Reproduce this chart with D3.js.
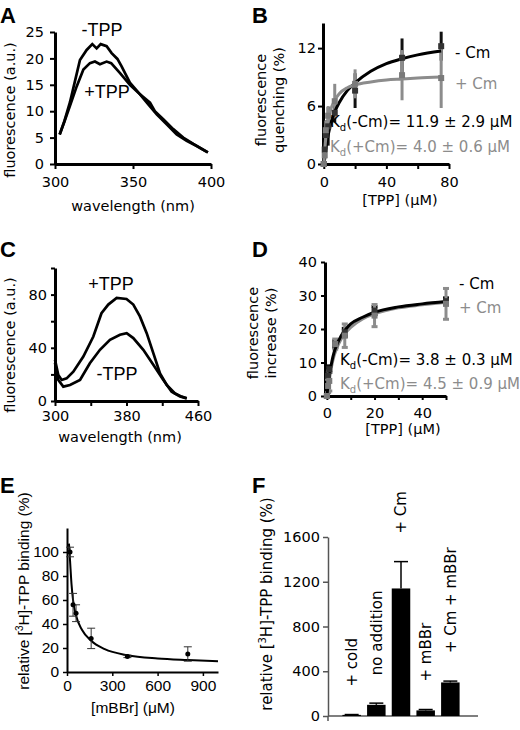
<!DOCTYPE html>
<html><head><meta charset="utf-8">
<script src="https://cdn.jsdelivr.net/npm/d3@7"></script>
<style>body{margin:0;background:#fff}svg{display:block}</style>
</head><body><svg id="c" width="520" height="730"></svg>
<script>
// ---------- DATA ----------
// Panel A: emission spectra
const aWlMinus = [303,306,309.6,312.8,316,320.3,323.9,326.7,329.3,333.1,336.3,340,342.7,348,354.5,360.9,364,369.4,375.8,382.2,388.7,396.2,398];
const aMinus   = [5.6,8.1,11.7,15.7,19.7,21.6,22.7,21.9,22.7,22.3,21,19.9,18.5,15.4,13.2,11.6,10,8.5,6.6,5.0,3.8,2.5,2.2];
const aWlPlus  = [303,306,309.6,313.9,318.2,322.4,325.6,328.8,333.1,336,341.7,348,354.5,359.8,365.2,371.6,378,384.4,390.8,396.2,398];
const aPlus    = [5.6,8,11,14.7,17.9,19.1,19.4,18.9,19.4,19.1,17.2,15,13.2,11.3,9.4,7.5,5.6,4.4,3.4,2.5,2.2];
const aTicksY = [0,5,10,15,20,25];
const aTicksX = [300,350,400];
// Panel B: quenching titration
const bConc = [0,0.6,1.3,2.8,7,20,50,75];
const bMinus = [0,1.5,3,3.9,5.3,7.6,11,12.2];
const bMinusErr = [0,1,1.5,2,1,1.8,2,1.5];
const bPlus = [0,0.9,3.5,5,6.5,8.3,9.2,8.9];
const bPlusErr = [0,0.5,1,1,1.8,1.5,2.6,3.1];
const bFitX = [0,1,2,4,7,10,15,20,30,40,50,60,75];
const bFitMinus = [0,1.2,2.3,3.9,5.4,6.4,7.6,8.4,9.6,10.4,10.9,11.3,11.7];
const bFitPlus = [0,2.2,3.7,5.4,6.6,7.3,7.9,8.2,8.5,8.7,8.8,8.9,9.0];
const bTicksY = [0,6,12];
const bTicksX = [0,20,40,60,80];
const bLabelsX = [0,40,80];
// Panel C: emission spectra
const cWlPlus = [300,303.7,307.5,313,320.5,331.7,342.9,352,359.6,369,380,387.6,395,402.6,410,417.5,425,434,441.7,447.4];
const cPlus   = [31,19.6,15.8,17,22,33.4,48.5,66,72.5,77.5,76.7,72.5,63.6,51,36,20.8,12,5.8,3.3,2];
const cWlMinus = [300,303.7,309.3,316.8,328,339,350.3,361.5,372.7,380.2,387.6,398.8,410,421.2,430.5,439.9,447.4];
const cMinus   = [28.7,15.8,10.8,12,15.8,28.4,38.5,46,49.8,51,47.3,38.5,27.2,15.8,7,3.3,2];
const cTicksY = [0,20,40,60,80,100];
const cLabelsY = [0,40,80];
const cTicksX = [300,340,380,420,460];
const cLabelsX = [300,380,460];
// Panel D: fluorescence increase titration
const dConc = [0,0.5,1,3.5,7.5,20,50];
const dMinus = [0,6,8,15.5,19,25.5,28.3];
const dMinusErr = [0,1,1,1,1.2,1.2,1];
const dPlus = [0,3,4.5,15.5,18,24,27.5];
const dPlusErr = [0,2,3,1.5,3.5,3.3,4.6];
const dFitX = [0,0.5,1,2,3,4,6,8,10,15,20,30,40,50];
const dFitMinus = [0,3.3,6,10,13,15,18,20,21.5,23.5,25,26.6,27.5,28.2];
const dFitPlus = [0,2.8,5.2,9,12,14,17,19,20.5,23,24.5,26.3,27.2,28];
const dTicksY = [0,10,20,30,40];
const dTicksX = [0,10,20,30,40,50];
const dLabelsX = [0,20,40];
// Panel E: mBBr inhibition
const eConc = [20,40,60,160,400,800];
const eVal = [100,56,49,28,13,15];
const eErr = [4,9.5,7,8.5,1,6];
const eFitX = [13,20,30,40,60,100,160,250,400,600,800,1000];
const eFitY = [107,93,73,60,47,35,26,19,14,11.3,10,9];
const eTicksY = [0,20,40,60,80,100];
const eTicksX = [0,300,600,900];
// Panel F: binding bars
const fCats = ["+ cold","no addition","+ Cm","+ mBBr","+ Cm + mBBr"];
const fVals = [10,100,1140,50,300];
const fErr = [3,15,240,8,12];
const fTicksY = [0,400,800,1200,1600];

// ---------- DRAW ----------
const svg = d3.select("#c");
svg.append("rect").attr("width",520).attr("height",730).attr("fill","#fff");
const VF = "'DejaVu Sans', Verdana, sans-serif";
const AF = "'Liberation Sans', Arial, sans-serif";
const GRAY = "#8c8c8c";

function styleAxis(g, o){
  g.attr("font-family", o.font || VF).attr("font-size", o.fs || 14.5);
  g.select(".domain").attr("stroke", o.color || "#000").attr("stroke-width", o.w || 3);
  g.selectAll(".tick line").attr("stroke", o.color || "#000").attr("stroke-width", o.tw || 2);
  g.selectAll(".tick text").attr("fill","#000");
}
function fmt(labels){ return d => labels.includes(d) ? String(d) : ""; }
function letter(t,x,y){ svg.append("text").attr("x",x).attr("y",y).attr("font-family",AF).attr("font-weight","bold").attr("font-size",22).text(t); }
function ylabel(lines, x0, cy, dx, font, fs){
  lines.forEach((t,i)=>{
    svg.append("text").attr("transform",`translate(${x0+i*dx},${cy}) rotate(-90)`).attr("text-anchor","middle")
      .attr("font-family",font||VF).attr("font-size",fs||14.5).text(t);
  });
}
function xlabel(t,cx,y,font,fs){ svg.append("text").attr("x",cx).attr("y",y).attr("text-anchor","middle").attr("font-family",font||VF).attr("font-size",fs||14.5).text(t); }
function kdText(x,y,main,color){
  const t = svg.append("text").attr("x",x).attr("y",y).attr("font-family",VF).attr("font-size",15).attr("fill",color);
  t.append("tspan").text("K");
  t.append("tspan").attr("dy",4).attr("font-size",10).text("d");
  t.append("tspan").attr("dy",-4).text(main);
}

// ===== Panel A =====
{
  const x = d3.scaleLinear().domain([300,400]).range([55,211]);
  const y = d3.scaleLinear().domain([0,25]).range([164,32]);
  svg.append("g").attr("transform","translate(0,164)").call(d3.axisBottom(x).tickValues(aTicksX).tickFormat(d3.format("d")).tickSize(5).tickSizeOuter(0).tickPadding(8)).call(g=>styleAxis(g,{}));
  svg.append("g").attr("transform","translate(55,0)").call(d3.axisLeft(y).tickValues(aTicksY).tickFormat(d3.format("d")).tickSize(5).tickSizeOuter(0).tickPadding(6)).call(g=>styleAxis(g,{}));
  const line = d3.line().x(d=>x(d[0])).y(d=>y(d[1]));
  svg.append("path").datum(d3.zip(aWlMinus,aMinus)).attr("d",line).attr("fill","none").attr("stroke","#000").attr("stroke-width",2.7);
  svg.append("path").datum(d3.zip(aWlPlus,aPlus)).attr("d",line).attr("fill","none").attr("stroke","#000").attr("stroke-width",2.7);
  svg.append("text").attr("x",102).attr("y",36).attr("text-anchor","middle").attr("font-family",AF).attr("font-size",18).text("-TPP");
  svg.append("text").attr("x",107).attr("y",98).attr("text-anchor","middle").attr("font-family",AF).attr("font-size",18).text("+TPP");
  letter("A",0,23);
  ylabel(["fluorescence (a.u.)"],15,110,0);
  xlabel("wavelength (nm)",133,211);
}

// ===== Panel B =====
{
  const x = d3.scaleLinear().domain([-0.5,80]).range([323,449]);
  const y = d3.scaleLinear().domain([0,14.6]).range([164,23]);
  svg.append("g").attr("transform","translate(0,164)").call(d3.axisBottom(x).tickValues(bTicksX).tickFormat(fmt(bLabelsX)).tickSize(5).tickSizeOuter(0).tickPadding(8)).call(g=>styleAxis(g,{}));
  svg.append("g").attr("transform","translate(323,0)").call(d3.axisLeft(y).tickValues(bTicksY).tickFormat(d3.format("d")).tickSize(5).tickSizeOuter(0).tickPadding(2)).call(g=>styleAxis(g,{}));
  const line = d3.line().x(d=>x(d[0])).y(d=>y(d[1])).curve(d3.curveMonotoneX);
  const series = [[bMinus,bMinusErr,"#111"],[bPlus,bPlusErr,GRAY]];
  series.forEach(([v,e,c])=>{
    svg.append("g").selectAll("line").data(bConc.map((cc,i)=>[cc,v[i],e[i]])).join("line")
      .attr("x1",d=>x(d[0])).attr("x2",d=>x(d[0])).attr("y1",d=>y(d[1]-d[2])).attr("y2",d=>y(d[1]+d[2]))
      .attr("stroke",c).attr("stroke-width",3);
  });
  svg.append("path").datum(d3.zip(bFitX,bFitMinus)).attr("d",line).attr("fill","none").attr("stroke","#000").attr("stroke-width",3);
  svg.append("path").datum(d3.zip(bFitX,bFitPlus)).attr("d",line).attr("fill","none").attr("stroke",GRAY).attr("stroke-width",3);
  series.forEach(([v,e,c])=>{
    svg.append("g").selectAll("rect").data(bConc.map((cc,i)=>[cc,v[i]])).join("rect")
      .attr("x",d=>x(d[0])-3).attr("y",d=>y(d[1])-3).attr("width",6).attr("height",6).attr("fill",c==="#111"?"#333":"#7a7a7a");
  });
  svg.append("text").attr("x",455).attr("y",58).attr("font-family",VF).attr("font-size",15).text("- Cm");
  svg.append("text").attr("x",455).attr("y",89).attr("font-family",VF).attr("font-size",15).attr("fill",GRAY).text("+ Cm");
  kdText(330,127,"(-Cm)= 11.9 ± 2.9 μM","#000");
  kdText(330,152,"(+Cm)= 4.0 ± 0.6 μM",GRAY);
  letter("B",252,23);
  ylabel(["fluorescence","quenching (%)"],266,100,18);
  xlabel("[TPP] (μM)",400,205);
}

// ===== Panel C =====
{
  const x = d3.scaleLinear().domain([300,460]).range([55,198]);
  const y = d3.scaleLinear().domain([0,100]).range([401,268]);
  svg.append("g").attr("transform","translate(0,401)").call(d3.axisBottom(x).tickValues(cTicksX).tickFormat(fmt(cLabelsX)).tickSize(5).tickSizeOuter(0).tickPadding(5)).call(g=>styleAxis(g,{}));
  svg.append("g").attr("transform","translate(55,0)").call(d3.axisLeft(y).tickValues(cTicksY).tickFormat(fmt(cLabelsY)).tickSize(4).tickSizeOuter(0).tickPadding(4)).call(g=>styleAxis(g,{}));
  const line = d3.line().x(d=>x(d[0])).y(d=>y(d[1]));
  svg.append("path").datum(d3.zip(cWlPlus,cPlus)).attr("d",line).attr("fill","none").attr("stroke","#000").attr("stroke-width",2.7);
  svg.append("path").datum(d3.zip(cWlMinus,cMinus)).attr("d",line).attr("fill","none").attr("stroke","#000").attr("stroke-width",2.7);
  svg.append("text").attr("x",111).attr("y",290).attr("text-anchor","middle").attr("font-family",AF).attr("font-size",18).text("+TPP");
  svg.append("text").attr("x",117).attr("y",380).attr("text-anchor","middle").attr("font-family",AF).attr("font-size",18).text("-TPP");
  letter("C",0,257);
  ylabel(["fluorescence (a.u.)"],15,345,0);
  xlabel("wavelength (nm)",120,442);
}

// ===== Panel D =====
{
  const x = d3.scaleLinear().domain([-0.8,50]).range([325,446]);
  const y = d3.scaleLinear().domain([0,40]).range([396,262]);
  svg.append("g").attr("transform","translate(0,396)").call(d3.axisBottom(x).tickValues(dTicksX).tickFormat(fmt(dLabelsX)).tickSize(4).tickSizeOuter(0).tickPadding(8)).call(g=>styleAxis(g,{}));
  svg.append("g").attr("transform","translate(325,0)").call(d3.axisLeft(y).tickValues(dTicksY).tickFormat(d3.format("d")).tickSize(4).tickSizeOuter(0).tickPadding(4)).call(g=>styleAxis(g,{}));
  const line = d3.line().x(d=>x(d[0])).y(d=>y(d[1])).curve(d3.curveMonotoneX);
  const series = [[dMinus,dMinusErr,"#111"],[dPlus,dPlusErr,GRAY]];
  series.forEach(([v,e,c])=>{
    const g = svg.append("g").attr("stroke",c).attr("stroke-width",3);
    const dd = dConc.map((cc,i)=>[cc,v[i],e[i]]);
    g.selectAll("line.v").data(dd).join("line").attr("class","v")
      .attr("x1",d=>x(d[0])).attr("x2",d=>x(d[0])).attr("y1",d=>y(d[1]-d[2])).attr("y2",d=>y(d[1]+d[2]));
    g.selectAll("line.t").data(dd.filter(d=>d[2]>0)).join("line").attr("class","t")
      .attr("x1",d=>x(d[0])-3).attr("x2",d=>x(d[0])+3).attr("y1",d=>y(d[1]+d[2])).attr("y2",d=>y(d[1]+d[2]));
    g.selectAll("line.b").data(dd.filter(d=>d[2]>0)).join("line").attr("class","b")
      .attr("x1",d=>x(d[0])-3).attr("x2",d=>x(d[0])+3).attr("y1",d=>y(d[1]-d[2])).attr("y2",d=>y(d[1]-d[2]));
  });
  svg.append("path").datum(d3.zip(dFitX,dFitPlus)).attr("d",line).attr("fill","none").attr("stroke",GRAY).attr("stroke-width",3);
  svg.append("path").datum(d3.zip(dFitX,dFitMinus)).attr("d",line).attr("fill","none").attr("stroke","#000").attr("stroke-width",3);
  series.forEach(([v,e,c])=>{
    svg.append("g").selectAll("rect").data(dConc.map((cc,i)=>[cc,v[i]])).join("rect")
      .attr("x",d=>x(d[0])-3).attr("y",d=>y(d[1])-3).attr("width",6).attr("height",6).attr("fill",c==="#111"?"#333":"#7a7a7a");
  });
  svg.append("text").attr("x",459).attr("y",289).attr("font-family",VF).attr("font-size",15).text("- Cm");
  svg.append("text").attr("x",459).attr("y",313).attr("font-family",VF).attr("font-size",15).attr("fill",GRAY).text("+ Cm");
  kdText(340,365,"(-Cm)= 3.8 ± 0.3 μM","#000");
  kdText(340,389,"(+Cm)= 4.5 ± 0.9 μM",GRAY);
  letter("D",252,257);
  ylabel(["fluorescence","increase (%)"],258,333,18);
  xlabel("[TPP] (μM)",403,434);
}

// ===== Panel E =====
{
  const x = d3.scaleLinear().domain([0,1000]).range([67,218]);
  const y = d3.scaleLinear().domain([0,120]).range([672,528]);
  svg.append("g").attr("transform","translate(0,672)").call(d3.axisBottom(x).tickValues(eTicksX).tickFormat(d3.format("d")).tickSize(4).tickSizeOuter(0).tickPadding(4)).call(g=>styleAxis(g,{font:AF,fs:15.5,w:2,tw:1.5}));
  svg.append("g").attr("transform","translate(67,0)").call(d3.axisLeft(y).tickValues(eTicksY).tickFormat(d3.format("d")).tickSize(4).tickSizeOuter(0).tickPadding(4)).call(g=>styleAxis(g,{font:AF,fs:15.5,w:2,tw:1.5}));
  const line = d3.line().x(d=>x(d[0])).y(d=>y(d[1])).curve(d3.curveMonotoneX);
  svg.append("path").datum(d3.zip(eFitX,eFitY)).attr("d",line).attr("fill","none").attr("stroke","#000").attr("stroke-width",2);
  const dd = eConc.map((c,i)=>[c,eVal[i],eErr[i]]);
  const g = svg.append("g").attr("stroke","#333").attr("stroke-width",1);
  g.selectAll("line.v").data(dd).join("line").attr("class","v").attr("x1",d=>x(d[0])).attr("x2",d=>x(d[0])).attr("y1",d=>y(d[1]-d[2])).attr("y2",d=>y(d[1]+d[2]));
  g.selectAll("line.t").data(dd).join("line").attr("class","t").attr("x1",d=>x(d[0])-4).attr("x2",d=>x(d[0])+4).attr("y1",d=>y(d[1]+d[2])).attr("y2",d=>y(d[1]+d[2]));
  g.selectAll("line.b").data(dd).join("line").attr("class","b").attr("x1",d=>x(d[0])-4).attr("x2",d=>x(d[0])+4).attr("y1",d=>y(d[1]-d[2])).attr("y2",d=>y(d[1]-d[2]));
  svg.append("g").selectAll("circle").data(dd).join("circle").attr("cx",d=>x(d[0])).attr("cy",d=>y(d[1])).attr("r",2.5).attr("fill","#000");
  letter("E",0,493);
  const t = svg.append("text").attr("transform","translate(29,591) rotate(-90)").attr("text-anchor","middle").attr("font-family",AF).attr("font-size",15.5);
  t.append("tspan").text("relative [");
  t.append("tspan").attr("dy",-6).attr("font-size",10).text("3");
  t.append("tspan").attr("dy",6).text("H]-TPP binding (%)");
  xlabel("[mBBr] (μM)",133,713,AF,15.5);
}

// ===== Panel F =====
{
  const x = d3.scaleBand().domain(fCats).range([335,467]).paddingInner(0.25).paddingOuter(0.3);
  const y = d3.scaleLinear().domain([0,1600]).range([716,537]);
  svg.append("line").attr("x1",328).attr("x2",478).attr("y1",716).attr("y2",716).attr("stroke","#555").attr("stroke-width",1.5);
  svg.append("line").attr("x1",328).attr("x2",328).attr("y1",716).attr("y2",721).attr("stroke","#555").attr("stroke-width",1.5);
  svg.append("g").attr("transform","translate(328,0)").call(d3.axisLeft(y).tickValues(fTicksY).tickFormat(d3.format("d")).tickSize(5).tickSizeOuter(0).tickPadding(3)).call(g=>styleAxis(g,{w:1.5,tw:1.5,color:"#555"}));
  const dd = fCats.map((c,i)=>({c,v:fVals[i],e:fErr[i]}));
  const g = svg.append("g").attr("stroke","#000").attr("stroke-width",1.5);
  g.selectAll("line.v").data(dd).join("line").attr("class","v").attr("x1",d=>x(d.c)+x.bandwidth()/2).attr("x2",d=>x(d.c)+x.bandwidth()/2).attr("y1",d=>y(d.v)).attr("y2",d=>y(d.v+d.e));
  g.selectAll("line.t").data(dd).join("line").attr("class","t").attr("x1",d=>x(d.c)+x.bandwidth()/2-7).attr("x2",d=>x(d.c)+x.bandwidth()/2+7).attr("y1",d=>y(d.v+d.e)).attr("y2",d=>y(d.v+d.e));
  svg.append("g").selectAll("rect").data(dd).join("rect").attr("x",d=>x(d.c)).attr("width",x.bandwidth()).attr("y",d=>y(d.v)).attr("height",d=>y(0)-y(d.v)).attr("fill","#000");
  svg.append("g").selectAll("text").data(dd).join("text")
    .attr("transform",d=>`translate(${x(d.c)+x.bandwidth()/2},${y(d.v+d.e)-28}) rotate(-90)`)
    .attr("dy","0.35em").attr("font-family",VF).attr("font-size",15).text(d=>d.c);
  letter("F",252,493);
  const t = svg.append("text").attr("transform","translate(272,604) rotate(-90)").attr("text-anchor","middle").attr("font-family",VF).attr("font-size",15);
  t.append("tspan").text("relative [");
  t.append("tspan").attr("dy",-6).attr("font-size",10).text("3");
  t.append("tspan").attr("dy",6).text("H]-TPP binding (%)");
}
</script></body></html>
